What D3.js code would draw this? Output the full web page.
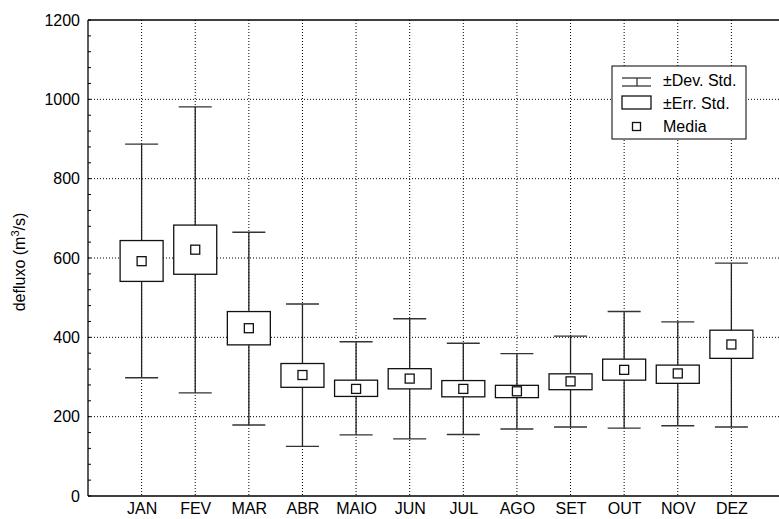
<!DOCTYPE html>
<html>
<head>
<meta charset="utf-8">
<script src="https://cdn.jsdelivr.net/npm/d3@7"></script>
<style>
  body { margin: 0; background: #fff; }
  text { font-family: "Liberation Sans", Arial, sans-serif; }
</style>
</head>
<body>
<div id="wrapper"></div>
<script>
// monthly values
var months = ["JAN", "FEV", "MAR", "ABR", "MAIO", "JUN", "JUL", "AGO", "SET", "OUT", "NOV", "DEZ"];
var media = [592, 621, 423, 305, 270, 296, 270, 264, 289, 318, 309, 382];
var errLow = [541, 559, 381, 274, 251, 270, 250, 248, 268, 292, 284, 347];
var errHigh = [644, 683, 465, 334, 292, 321, 291, 279, 308, 345, 330, 418];
var devLow = [298, 260, 179, 125, 154, 144, 155, 169, 174, 171, 177, 174];
var devHigh = [887, 981, 665, 484, 389, 447, 385, 359, 403, 465, 439, 587];
var yTicks = [0, 200, 400, 600, 800, 1000, 1200];
var legendLabels = ["±Dev. Std.", "±Err. Std.", "Media"];

var dataset = months.map(function(m, i){
    return {month: m, media: media[i], eLo: errLow[i], eHi: errHigh[i], dLo: devLow[i], dHi: devHigh[i]};
});

var fontSize = 16;

var dimension = {
    width: 779,
    height: 519,
    margin: { top: 20, left: 88, bottom: 23, right: 0 }
}
dimension.boundedHeight = dimension.height - dimension.margin.top - dimension.margin.bottom;
// the frame runs past the right edge of the picture
dimension.boundedWidth = 697;

const svg = d3.select("#wrapper")
    .append("svg")
    .attr("width", dimension.width)
    .attr("height", dimension.height);

const bounded = svg.append("g")
    .attr("transform", `translate(${dimension.margin.left}, ${dimension.margin.top})`);

const yScaler = d3.scaleLinear()
    .domain([0, 1200])
    .range([dimension.boundedHeight, 0]);

const xScaler = d3.scalePoint()
    .domain(months)
    .range([0, dimension.boundedWidth])
    .padding(1);

// grid
bounded.append("g")
    .selectAll("line")
    .data(yTicks.filter(d => d > 0 && d < 1200))
    .enter().append("line")
    .attr("x1", 0).attr("x2", dimension.boundedWidth)
    .attr("y1", d => yScaler(d)).attr("y2", d => yScaler(d))
    .attr("stroke", "#000").attr("stroke-width", 1)
    .attr("stroke-dasharray", "1,2");

bounded.append("g")
    .selectAll("line")
    .data(months)
    .enter().append("line")
    .attr("x1", d => xScaler(d)).attr("x2", d => xScaler(d))
    .attr("y1", 0).attr("y2", dimension.boundedHeight)
    .attr("stroke", "#000").attr("stroke-width", 1)
    .attr("stroke-dasharray", "1,2");

// y axis with inner ticks
const yAxisGenerator = d3.axisLeft(yScaler)
    .tickValues(yTicks)
    .tickFormat(d3.format("d"))
    .tickSize(0)
    .tickPadding(8);
const yAxis = bounded.append("g").call(yAxisGenerator);
yAxis.attr("font-size", null).attr("font-family", null);
yAxis.select(".domain").remove();
yAxis.selectAll("text").style("font-size", fontSize + "px").attr("fill", "#000");

bounded.append("g")
    .selectAll("line")
    .data(d3.range(0, 1201, 40))
    .enter().append("line")
    .attr("x1", 0).attr("x2", 3)
    .attr("y1", d => yScaler(d)).attr("y2", d => yScaler(d))
    .attr("stroke", "#000").attr("stroke-width", 1);

const xAxisGenerator = d3.axisBottom(xScaler)
    .tickSize(0)
    .tickPadding(7);
const xAxis = bounded.append("g")
    .attr("transform", `translate(0, ${dimension.boundedHeight})`)
    .call(xAxisGenerator);
xAxis.attr("font-size", null).attr("font-family", null);
xAxis.select(".domain").remove();
xAxis.selectAll("text").style("font-size", fontSize + "px").attr("fill", "#000");

// frame
bounded.append("line")
    .attr("x1", 0).attr("x2", dimension.boundedWidth)
    .attr("y1", 0).attr("y2", 0)
    .attr("stroke", "#000").attr("stroke-width", 1.3);
bounded.append("line")
    .attr("x1", 0).attr("x2", dimension.boundedWidth)
    .attr("y1", dimension.boundedHeight).attr("y2", dimension.boundedHeight)
    .attr("stroke", "#000").attr("stroke-width", 1.3);
bounded.append("line")
    .attr("x1", 0).attr("x2", 0)
    .attr("y1", 0).attr("y2", dimension.boundedHeight)
    .attr("stroke", "#000").attr("stroke-width", 1.3);

// y title
svg.append("text")
    .attr("transform", `translate(25, ${dimension.margin.top + dimension.boundedHeight / 2 + 4}) rotate(-90)`)
    .attr("text-anchor", "middle")
    .style("font-size", fontSize + "px")
    .html("defluxo (m<tspan dy='-6' font-size='11'>3</tspan><tspan dy='6'>/s)</tspan>");

// boxes
var capHalf = 16.5, boxHalf = 21.5, markHalf = 4.5;
const groups = bounded.append("g")
    .selectAll("g")
    .data(dataset)
    .enter().append("g");

groups.append("line")
    .attr("x1", d => xScaler(d.month)).attr("x2", d => xScaler(d.month))
    .attr("y1", d => yScaler(d.dLo)).attr("y2", d => yScaler(d.dHi))
    .attr("stroke", "#222").attr("stroke-width", 1.3);
groups.append("line")
    .attr("x1", d => xScaler(d.month) - capHalf).attr("x2", d => xScaler(d.month) + capHalf)
    .attr("y1", d => yScaler(d.dHi)).attr("y2", d => yScaler(d.dHi))
    .attr("stroke", "#333").attr("stroke-width", 1.4);
groups.append("line")
    .attr("x1", d => xScaler(d.month) - capHalf).attr("x2", d => xScaler(d.month) + capHalf)
    .attr("y1", d => yScaler(d.dLo)).attr("y2", d => yScaler(d.dLo))
    .attr("stroke", "#333").attr("stroke-width", 1.4);
groups.append("rect")
    .attr("x", d => xScaler(d.month) - boxHalf)
    .attr("width", boxHalf * 2)
    .attr("y", d => yScaler(d.eHi))
    .attr("height", d => yScaler(d.eLo) - yScaler(d.eHi))
    .attr("fill", "#fff").attr("stroke", "#111").attr("stroke-width", 1.3);
groups.append("rect")
    .attr("x", d => xScaler(d.month) - markHalf)
    .attr("width", markHalf * 2)
    .attr("y", d => yScaler(d.media) - markHalf)
    .attr("height", markHalf * 2)
    .attr("fill", "#fff").attr("stroke", "#111").attr("stroke-width", 1.3);

// legend
const legend = svg.append("g").attr("transform", "translate(612, 66)");
legend.append("rect")
    .attr("width", 134).attr("height", 73)
    .attr("fill", "#fff").attr("stroke", "#000").attr("stroke-width", 1);
legend.append("line").attr("x1", 10).attr("x2", 39).attr("y1", 12).attr("y2", 12)
    .attr("stroke", "#333").attr("stroke-width", 1.3);
legend.append("line").attr("x1", 25).attr("x2", 25).attr("y1", 12).attr("y2", 20)
    .attr("stroke", "#333").attr("stroke-width", 1.3);
legend.append("line").attr("x1", 10).attr("x2", 39).attr("y1", 20).attr("y2", 20)
    .attr("stroke", "#333").attr("stroke-width", 1.3);
legend.append("rect").attr("x", 10).attr("y", 30).attr("width", 29).attr("height", 13)
    .attr("fill", "#fff").attr("stroke", "#111").attr("stroke-width", 1.3);
legend.append("rect").attr("x", 20.5).attr("y", 56.5).attr("width", 8).attr("height", 8)
    .attr("fill", "#fff").attr("stroke", "#111").attr("stroke-width", 1.3);
legend.selectAll(".lbl")
    .data(legendLabels)
    .enter().append("text")
    .attr("class", "lbl")
    .attr("x", 51)
    .attr("y", (d, i) => 20 + i * 23)
    .style("font-size", fontSize + "px")
    .text(d => d);
</script>
</body>
</html>
